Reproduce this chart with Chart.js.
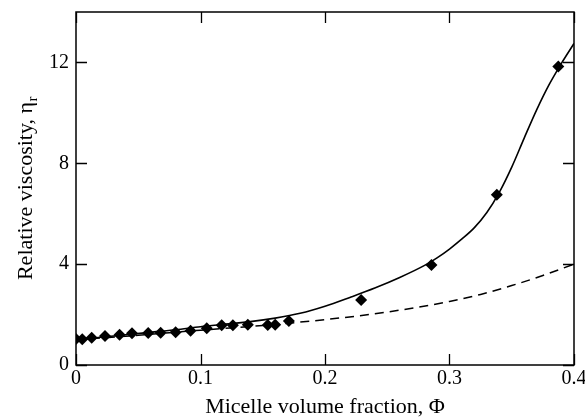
<!DOCTYPE html>
<html>
<head>
<meta charset="utf-8">
<script src="https://cdn.jsdelivr.net/npm/chart.js@4"></script>
<style>
  html, body { margin: 0; padding: 0; background: #fff; }
  canvas { display: block; }
</style>
</head>
<body>
<canvas id="grafica" width="585" height="420"></canvas>
<script>
// ---- measured points: relative viscosity vs micelle volume fraction ----
const phiMedido = [0, 0.005, 0.0126, 0.0233, 0.035, 0.045, 0.058, 0.068, 0.08, 0.092,
  0.105, 0.117, 0.126, 0.138, 0.154, 0.16, 0.171, 0.229, 0.2855, 0.338, 0.3874];
const etaMedido = [1.03, 1.02, 1.08, 1.15, 1.2, 1.26, 1.27, 1.28, 1.3, 1.36,
  1.46, 1.58, 1.58, 1.6, 1.59, 1.6, 1.75, 2.58, 3.97, 6.75, 11.84];

// ---- fitted curve (solid) ----
const phiAjuste = [0, 0.02, 0.04, 0.06, 0.08, 0.1, 0.12, 0.14, 0.16, 0.18, 0.2, 0.22,
  0.24, 0.26, 0.28, 0.29, 0.3, 0.31, 0.32, 0.33, 0.34, 0.35, 0.36, 0.37, 0.38, 0.39, 0.4];
const etaAjuste = [1.0, 1.1, 1.2, 1.3, 1.4, 1.52, 1.62, 1.72, 1.86, 2.05, 2.33, 2.68,
  3.05, 3.47, 3.95, 4.25, 4.6, 5.0, 5.45, 6.05, 6.85, 7.85, 9.0, 10.12, 11.12, 11.97, 12.75];

// ---- hard-sphere curve (dashed) ----
const phiEsferas = [0, 0.05, 0.1, 0.15, 0.2, 0.25, 0.3, 0.325, 0.35, 0.375, 0.4];
const etaEsferas = [1.0, 1.18, 1.38, 1.57, 1.8, 2.1, 2.52, 2.8, 3.15, 3.55, 4.0];

// ---- axis ticks ----
const ticksX = [0, 0.1, 0.2, 0.3, 0.4];
const ticksY = [0, 4, 8, 12];

const FUENTE = "'Liberation Serif', 'Times New Roman', serif";

function puntos(xs, ys) {
  return xs.map((x, i) => ({ x: x, y: ys[i] }));
}

// frame + inward tick marks on all four sides
const marcoPlugin = {
  id: 'marco',
  afterDatasetsDraw(chart) {
    const { ctx, chartArea: a, scales } = chart;
    const largo = 11;
    ctx.save();
    ctx.strokeStyle = '#000';
    ctx.lineWidth = 1.3;
    ctx.beginPath();
    ticksX.forEach(v => {
      const px = Math.round(scales.x.getPixelForValue(v)) + 0.5;
      ctx.moveTo(px, a.bottom); ctx.lineTo(px, a.bottom - largo);
      ctx.moveTo(px, a.top); ctx.lineTo(px, a.top + largo);
    });
    ticksY.forEach(v => {
      const py = Math.round(scales.y.getPixelForValue(v)) + 0.5;
      ctx.moveTo(a.left, py); ctx.lineTo(a.left + largo, py);
      ctx.moveTo(a.right, py); ctx.lineTo(a.right - largo, py);
    });
    ctx.stroke();
    ctx.lineWidth = 1.5;
    ctx.strokeRect(a.left, a.top, a.right - a.left, a.bottom - a.top);
    ctx.restore();
  },
  // y axis title with subscript r
  afterDraw(chart) {
    const { ctx, chartArea: a } = chart;
    const texto = 'Relative viscosity, \u03b7';
    ctx.save();
    ctx.fillStyle = '#000';
    ctx.font = '22px ' + FUENTE;
    const ancho = ctx.measureText(texto).width;
    ctx.font = '15px ' + FUENTE;
    const anchoSub = ctx.measureText('r').width;
    const total = ancho + anchoSub;
    ctx.translate(32, (a.top + a.bottom) / 2 + total / 2);
    ctx.rotate(-Math.PI / 2);
    ctx.textBaseline = 'alphabetic';
    ctx.textAlign = 'left';
    ctx.font = '22px ' + FUENTE;
    ctx.fillText(texto, 0, 0);
    ctx.font = '15px ' + FUENTE;
    ctx.fillText('r', ancho + 0.5, 5);
    ctx.restore();
  }
};

new Chart(document.getElementById('grafica'), {
  type: 'scatter',
  data: {
    datasets: [
      {
        label: 'medido',
        data: puntos(phiMedido, etaMedido),
        pointStyle: 'rectRot',
        pointRadius: 6,
        pointBackgroundColor: '#000',
        pointBorderColor: '#000',
        pointBorderWidth: 0,
        showLine: false,
        order: 0
      },
      {
        label: 'ajuste',
        data: puntos(phiAjuste, etaAjuste),
        showLine: true,
        borderColor: '#000',
        borderWidth: 1.6,
        pointRadius: 0,
        cubicInterpolationMode: 'monotone',
        order: 1
      },
      {
        label: 'esferas duras',
        data: puntos(phiEsferas, etaEsferas),
        showLine: true,
        borderColor: '#000',
        borderWidth: 1.5,
        borderDash: [9, 6],
        pointRadius: 0,
        cubicInterpolationMode: 'monotone',
        order: 2
      }
    ]
  },
  options: {
    responsive: false,
    animation: false,
    devicePixelRatio: 1,
    layout: { padding: { top: 12, right: 11, left: 0, bottom: 0 } },
    plugins: {
      legend: { display: false },
      tooltip: { enabled: false }
    },
    scales: {
      x: {
        type: 'linear',
        min: 0,
        max: 0.4,
        grid: { display: false, drawTicks: false },
        border: { display: false },
        ticks: {
          stepSize: 0.1,
          includeBounds: false,
          padding: 2,
          color: '#000',
          font: { family: FUENTE, size: 20 },
          maxRotation: 0,
          callback: v => v === 0 ? '0' : v.toFixed(1)
        },
        title: {
          display: true,
          text: 'Micelle volume fraction, \u03a6',
          color: '#000',
          font: { family: FUENTE, size: 22 },
          padding: { top: 0, bottom: 0 }
        },
        afterFit(scale) {
          scale.height = 55;
          scale.paddingLeft = 0;
          scale.paddingRight = 0;
        }
      },
      y: {
        type: 'linear',
        min: 0,
        max: 14,
        grid: { display: false, drawTicks: false },
        border: { display: false },
        ticks: {
          stepSize: 4,
          includeBounds: false,
          padding: 7,
          color: '#000',
          font: { family: FUENTE, size: 20 }
        },
        afterFit(scale) {
          scale.width = 76;
          scale.paddingTop = 0;
          scale.paddingBottom = 0;
        }
      }
    }
  },
  plugins: [marcoPlugin]
});
</script>
</body>
</html>
